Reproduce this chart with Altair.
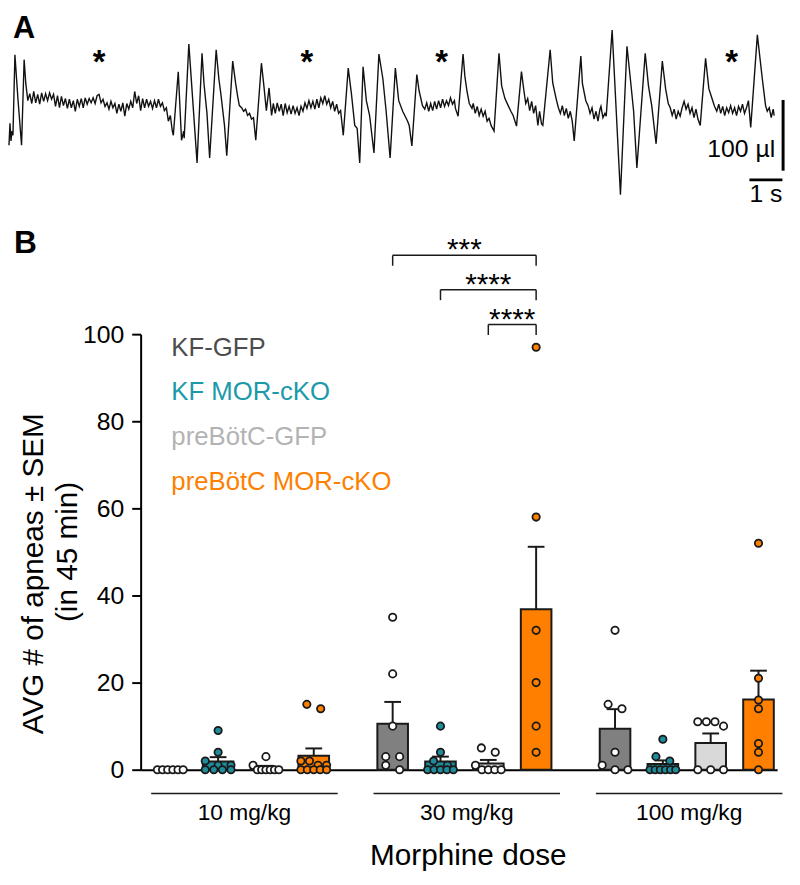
import altair as alt
import pandas as pd

FONT = "Liberation Sans"

# ---------------- Panel A: breathing trace (time in ms, flow in µl) -------------
trace_points = [
    (0,-59),(30,-28),(60,-53),(90,-39),(120,-45),(180,69),(270,7),(381,-59),(459,62),(510,28),(570,4),
    (630,14),(690,0),(750,17),(810,1),(870,13),(930,-1),(990,15),(1050,3),(1110,14),(1170,4),
    (1230,15),(1290,6),(1350,13),(1410,-4),(1470,11),(1530,-6),(1590,10),(1650,-3),(1710,7),(1770,-7),
    (1830,6),(1890,-6),(1950,4),(2010,-11),(2070,6),(2130,-4),(2190,7),(2250,-6),(2310,8),(2370,-1),
    (2430,7),(2490,1),(2550,8),(2610,0),(2670,11),(2730,13),(2790,1),(2850,6),(2910,-4),(2970,1),
    (3030,-8),(3090,3),(3150,-6),(3210,0),(3270,-14),(3330,-1),(3390,-11),(3450,1),(3510,-18),(3570,0),
    (3630,-8),(3690,3),(3750,-6),(3810,17),(3870,0),(3930,11),(3990,-10),(4050,7),(4110,-6),(4170,6),
    (4230,-4),(4290,3),(4350,-7),(4410,4),(4470,-6),(4530,6),(4590,-4),(4650,1),(4710,-10),(4770,-6),
    (4830,-25),(4890,-17),(4950,-39),(4980,-45),
    (5130,45),(5229,-52),(5295,-39),(5310,-49),(5451,84),(5700,-84),(5850,71),(5910,28),(5961,4),(6000,-14),
    (6081,-77),(6279,76),(6360,35),(6420,14),(6531,-31),(6600,-74),(6780,60),(6870,28),(6930,10),(6981,-3),
    (7050,-6),(7110,-11),(7170,-8),(7230,-17),(7290,-14),(7350,-22),(7410,-20),(7479,-52),(7650,57),(7725,25),
    (7800,-10),(7881,22),(7959,-17),
    (8010,0),(8070,-14),(8130,1),(8190,-11),(8250,-1),(8310,-17),(8370,0),(8430,-13),(8490,-4),(8550,-15),
    (8610,-3),(8670,-14),(8730,-6),(8790,-17),(8850,-4),(8910,-11),(8970,1),(9030,-7),(9090,4),(9150,-6),
    (9210,3),(9270,-8),(9330,6),(9390,-6),(9450,8),(9510,0),(9570,11),(9630,-1),(9690,6),(9750,-6),
    (9810,3),(9870,-11),(9930,-1),(9990,-14),(10050,-10),(10131,-45),
    (10281,50),(10380,13),(10479,-31),(10551,-35),(10629,-84),(10731,52),(10830,4),(10929,-17),(11061,-70),(11211,70),
    (11331,35),(11430,-11),(11550,-77),(11709,50),(11811,4),(11931,-11),(12081,-25),(12129,-31),(12210,-60),(12360,41),
    (12429,18),(12531,-3),
    (12600,-8),(12660,1),(12720,-11),(12780,0),(12840,-10),(12900,3),(12960,-8),(13020,4),(13080,-6),(13140,6),
    (13200,-4),(13260,4),(13320,-3),(13380,8),(13440,-1),(13500,4),(13530,-7),(13611,-18),
    (13761,70),(13815,39),(13881,17),(13950,0),(14031,-7),(14070,0),(14130,-14),(14190,-4),(14250,-17),(14310,-8),
    (14370,-18),(14430,-11),(14490,-25),(14550,-21),(14610,-31),(14700,-39),
    (14850,71),(14931,25),(15030,7),(15129,-3),(15210,-11),(15279,-17),(15381,-32),(15531,45),(15609,17),
    (15660,0),(15720,7),(15780,-10),(15840,3),(15900,-14),(15960,-3),(16029,-31),(16080,-11),(16140,-29),(16179,-31),
    (16401,76),(16479,29),(16581,7),(16650,-6),(16710,-14),(16770,-3),(16830,-17),(16890,-7),(16950,-21),(17010,-11),
    (17070,-25),(17130,-53),
    (17331,67),(17379,28),(17481,4),(17550,-3),(17610,-14),(17670,-6),(17730,-22),(17790,-11),(17850,-25),(17910,-8),
    (17940,-4),(18000,-20),(18060,-14),(18099,-18),
    (18279,104),(18531,-129),(18729,81),(18831,35),(18930,-11),(19029,-91),(19281,71),(19380,25),(19479,-3),(19611,-57),
    (19800,60),(19899,21),(19980,0),
    (20040,-6),(20100,-17),(20160,-8),(20220,-22),(20280,-11),(20340,-18),(20400,-6),(20460,3),(20520,-8),(20580,-1),
    (20640,-14),(20700,-6),(20760,-20),(20820,-8),(20880,-22),(20949,-31),
    (21111,64),(21210,21),(21279,11),(21381,-4),
    (21450,-11),(21510,-1),(21570,-14),(21630,-4),(21690,-17),(21750,-6),(21810,-13),(21870,-3),(21930,-14),(21990,-6),
    (22050,-17),(22110,-4),(22170,-11),(22230,-1),(22290,-14),(22350,-6),(22410,4),(22479,-34),
    (22680,97),(22830,35),(22929,-3),(22980,-11),(23040,-6),(23100,-20),(23160,-8),(23190,-17),
]
apnea_times_ms = [2730, 9030, 13110, 21900]

# ---------------- Panel B data -------------
doses = ["10 mg/kg", "30 mg/kg", "100 mg/kg"]
groups = ["KF-GFP", "KF MOR-cKO", "preBötC-GFP", "preBötC MOR-cKO"]
apneas_10mg = [
    [0, 0, 0, 0, 0, 0],
    [9, 4, 2, 1, 1, 0, 0, 0, 0],
    [3, 1, 0, 0, 0, 0, 0, 0],
    [15, 14, 2, 2, 1, 1, 0, 0, 0, 0, 0],
]
apneas_30mg = [
    [35, 22, 10, 3, 3, 1, 0],
    [10, 4, 2, 1, 0, 0, 0, 0, 0],
    [5, 4, 1, 0, 0, 0, 0],
    [97, 58, 32, 20, 10, 4],
]
apneas_100mg = [
    [32, 15, 14, 4, 1, 0, 0],
    [7, 3, 2, 0, 0, 0, 0, 0, 0],
    [11, 10, 11, 11, 0, 0, 0],
    [52, 21, 16, 14, 6, 4, 0],
]
bar_colors = ["#808080", "#1f8c9b", "#d9d9d9", "#ff8000"]
dot_colors = ["#ffffff", "#1f8c9b", "#ffffff", "#ff8000"]
legend_colors = ["#4d4d4d", "#1b9aaa", "#b3b3b3", "#ff7f00"]
comparisons = [  # dose, group a, group b, bracket level, label
    ("30 mg/kg", "KF-GFP", "preBötC MOR-cKO", 118.1, "***"),
    ("30 mg/kg", "KF MOR-cKO", "preBötC MOR-cKO", 110.2, "****"),
    ("30 mg/kg", "preBötC-GFP", "preBötC MOR-cKO", 102.2, "****"),
]

# ---------------- layout helpers -------------
GROUP_STEP = 4.65
BW, BH = 643, 440
XDOM = [-0.62, 12.69]
PX_PER_X = BW / (XDOM[1] - XDOM[0])
INK = "#1a1a1a"


def pos(d, g):
    return doses.index(d) * GROUP_STEP + groups.index(g)


def swarm(vals):
    order = sorted(range(len(vals)), key=lambda i: -vals[i])
    res = [0.0] * len(vals)
    i = 0
    while i < len(order):
        v0 = vals[order[i]]
        j = i
        while j < len(order) and v0 - vals[order[j]] <= 1.0:
            j += 1
        cl = order[i:j]
        n = len(cl)
        if n > 1:
            sp = min(14.0, 26.0 / (n - 1))
            for k, idx in enumerate(cl):
                res[idx] = (k - (n - 1) / 2) * sp / PX_PER_X
        i = j
    return res


bars, dots = [], []
for d, table in zip(doses, [apneas_10mg, apneas_30mg, apneas_100mg]):
    for gi, (g, vals) in enumerate(zip(groups, table)):
        s = pd.Series(vals, dtype=float)
        m = s.mean()
        se = s.std(ddof=1) / (len(s) ** 0.5)
        p = pos(d, g)
        bars.append(dict(dose=d, group=g, pos=p, x1=p - 0.32, x2=p + 0.32, base=0.0,
                         mean=m, top=m + se, sem=se, c1=p - 0.175, c2=p + 0.175,
                         fill=bar_colors[gi]))
        for v, off in zip(vals, swarm(vals)):
            dots.append(dict(dose=d, group=g, px=p + off, val=v, fill=dot_colors[gi]))
df_bars = pd.DataFrame(bars)
df_err = df_bars[df_bars["sem"] > 0]
df_dots = pd.DataFrame(dots)

df_groups = pd.DataFrame({
    "dose": doses,
    "center": [i * GROUP_STEP + 1.55 for i in range(len(doses))],
})
df_groups["l1"] = df_groups["center"] - 1.95
df_groups["l2"] = df_groups["center"] + 1.95

seg = []
stars = []
for d, a, b, lev, lab in comparisons:
    pa, pb = pos(d, a), pos(d, b)
    seg.append(dict(xa=pa, xb=pb, ya=lev, yb=lev))
    seg.append(dict(xa=pa, xb=pa, ya=lev, yb=lev - 2.4))
    seg.append(dict(xa=pb, xb=pb, ya=lev, yb=lev - 2.4))
    stars.append(dict(mid=(pa + pb) / 2, lev=lev, lab=lab))
df_seg = pd.DataFrame(seg)
df_stars = pd.DataFrame(stars)

one = pd.DataFrame({"k": [0]})

xs = alt.Scale(domain=XDOM, nice=False, zero=False)
ys = alt.Scale(domain=[0, 100], nice=False, zero=False)
x_axis = alt.Axis(labels=False, ticks=False, title=None, grid=False, domainWidth=2,
                  domainColor="black")
y_axis = alt.Axis(values=[0, 20, 40, 60, 80, 100], tickSize=9, tickWidth=2, domainWidth=2,
                  labelFontSize=25, labelPadding=8, title=None, grid=False, labelFont=FONT,
                  domainColor="black", tickColor="black", labelColor="black")


def X(f):
    return alt.X(f, type="quantitative", scale=xs, axis=x_axis)


def Y(f):
    return alt.Y(f, type="quantitative", scale=ys, axis=y_axis)


def label(text, x, y, **kw):
    return alt.Chart(one).mark_text(text=text, font=FONT, **kw).encode(
        x=alt.value(x), y=alt.value(y))


bars_layer = alt.Chart(df_bars).mark_bar(stroke=INK, strokeWidth=2).encode(
    x=X("x1"), x2="x2", y=Y("mean"), y2="base", fill=alt.Fill("fill:N", scale=None))
err_layer = alt.Chart(df_err).mark_rule(stroke=INK, strokeWidth=2).encode(
    x=X("pos"), y=Y("mean"), y2="top")
cap_layer = alt.Chart(df_err).mark_rule(stroke=INK, strokeWidth=2).encode(
    x=X("c1"), x2="c2", y=Y("top"))
dots_layer = alt.Chart(df_dots).mark_circle(size=55, stroke=INK, strokeWidth=1.8, opacity=1).encode(
    x=X("px"), y=Y("val"), fill=alt.Fill("fill:N", scale=None))
grp_lines = alt.Chart(df_groups).mark_rule(stroke=INK, strokeWidth=1.5).encode(
    x=X("l1"), x2="l2", y=alt.value(464))
grp_text = alt.Chart(df_groups).mark_text(font=FONT, fontSize=23, baseline="alphabetic",
                                          color="black").encode(
    x=X("center"), y=alt.value(491), text="dose:N")
br_layer = alt.Chart(df_seg).mark_rule(stroke=INK, strokeWidth=1.5).encode(
    x=X("xa"), x2="xb", y=Y("ya"), y2="yb")
star_layer = alt.Chart(df_stars).mark_text(font=FONT, fontSize=30, baseline="alphabetic",
                                           dy=4, color="black").encode(
    x=X("mid"), y=Y("lev"), text="lab:N")

legend_layers = [
    label(g, 31, 22 + 45 * i, fontSize=26, align="left", baseline="alphabetic", color=c)
    for i, (g, c) in enumerate(zip(groups, legend_colors))
]
ytitle1 = label("AVG # of apneas ± SEM", -98.7, 242, fontSize=30, angle=270, align="center",
                baseline="alphabetic", color="black")
ytitle2 = label("(in 45 min)", -64, 220, fontSize=30, angle=270, align="center",
                baseline="alphabetic", color="black")
xtitle = label("Morphine dose", 331, 536, fontSize=30, align="center", baseline="alphabetic",
               color="black")
b_label = label("B", -128, -82, fontSize=32, fontWeight="bold", align="left",
                baseline="alphabetic", color="black")

panel_b = alt.layer(
    grp_lines, grp_text, bars_layer, err_layer, cap_layer, dots_layer,
    br_layer, star_layer, *legend_layers, ytitle1, ytitle2, xtitle, b_label,
)

# ---------------- Panel A (own scales, drawn above panel B's plot area) -------------
df_trace = pd.DataFrame(trace_points, columns=["t", "v"])
df_trace["i"] = range(len(df_trace))
txs = alt.Scale(domain=[3990, 23280], nice=False, zero=False)
tys = alt.Scale(domain=[-942.2, -326.2], nice=False, zero=False)


def TX(f):
    return alt.X(f, type="quantitative", scale=txs, axis=None)


def TY(f):
    return alt.Y(f, type="quantitative", scale=tys, axis=None)


trace = alt.Chart(df_trace).mark_line(stroke="#111111", strokeWidth=1.4).encode(
    x=TX("t"), y=TY("v"), order="i:Q")
df_ap = pd.DataFrame({"t": apnea_times_ms, "v": [43.8] * len(apnea_times_ms)})
ap_stars = alt.Chart(df_ap).mark_text(text="*", font=FONT, fontSize=33, fontWeight="bold",
                                      baseline="alphabetic", color="black").encode(
    x=TX("t"), y=TY("v"))
df_sb = pd.DataFrame({"t": [23460, 22440], "t2": [23460, 23440], "v": [-95, -108], "v2": [5, -108]})
scalebars = alt.Chart(df_sb).mark_rule(stroke="black", strokeWidth=3, strokeCap="butt").encode(
    x=TX("t"), x2="t2", y=TY("v"), y2="v2")
df_sbt1 = pd.DataFrame({"t": [23220], "v": [-76], "txt": ["100 µl"]})
df_sbt2 = pd.DataFrame({"t": [22940], "v": [-140], "txt": ["1 s"]})
sb_text1 = alt.Chart(df_sbt1).mark_text(font=FONT, fontSize=25, align="right",
                                        baseline="alphabetic", color="black").encode(
    x=TX("t"), y=TY("v"), text="txt:N")
sb_text2 = alt.Chart(df_sbt2).mark_text(font=FONT, fontSize=25, align="center",
                                        baseline="alphabetic", color="black").encode(
    x=TX("t"), y=TY("v"), text="txt:N")
a_label = label("A", -129, -299, fontSize=31, fontWeight="bold", align="left",
                baseline="alphabetic", color="black")

panel_a = alt.layer(trace, ap_stars, scalebars, sb_text1, sb_text2, a_label)

chart = alt.layer(panel_a, panel_b).resolve_scale(
    x="independent", y="independent"
).properties(
    width=BW, height=BH,
    autosize=alt.AutoSizeParams(type="none"),
    padding={"left": 134, "top": 325, "right": 15, "bottom": 112},
).configure(font=FONT).configure_view(strokeWidth=0)

chart.save("out.html", embed_options={"renderer": "svg", "actions": False})
